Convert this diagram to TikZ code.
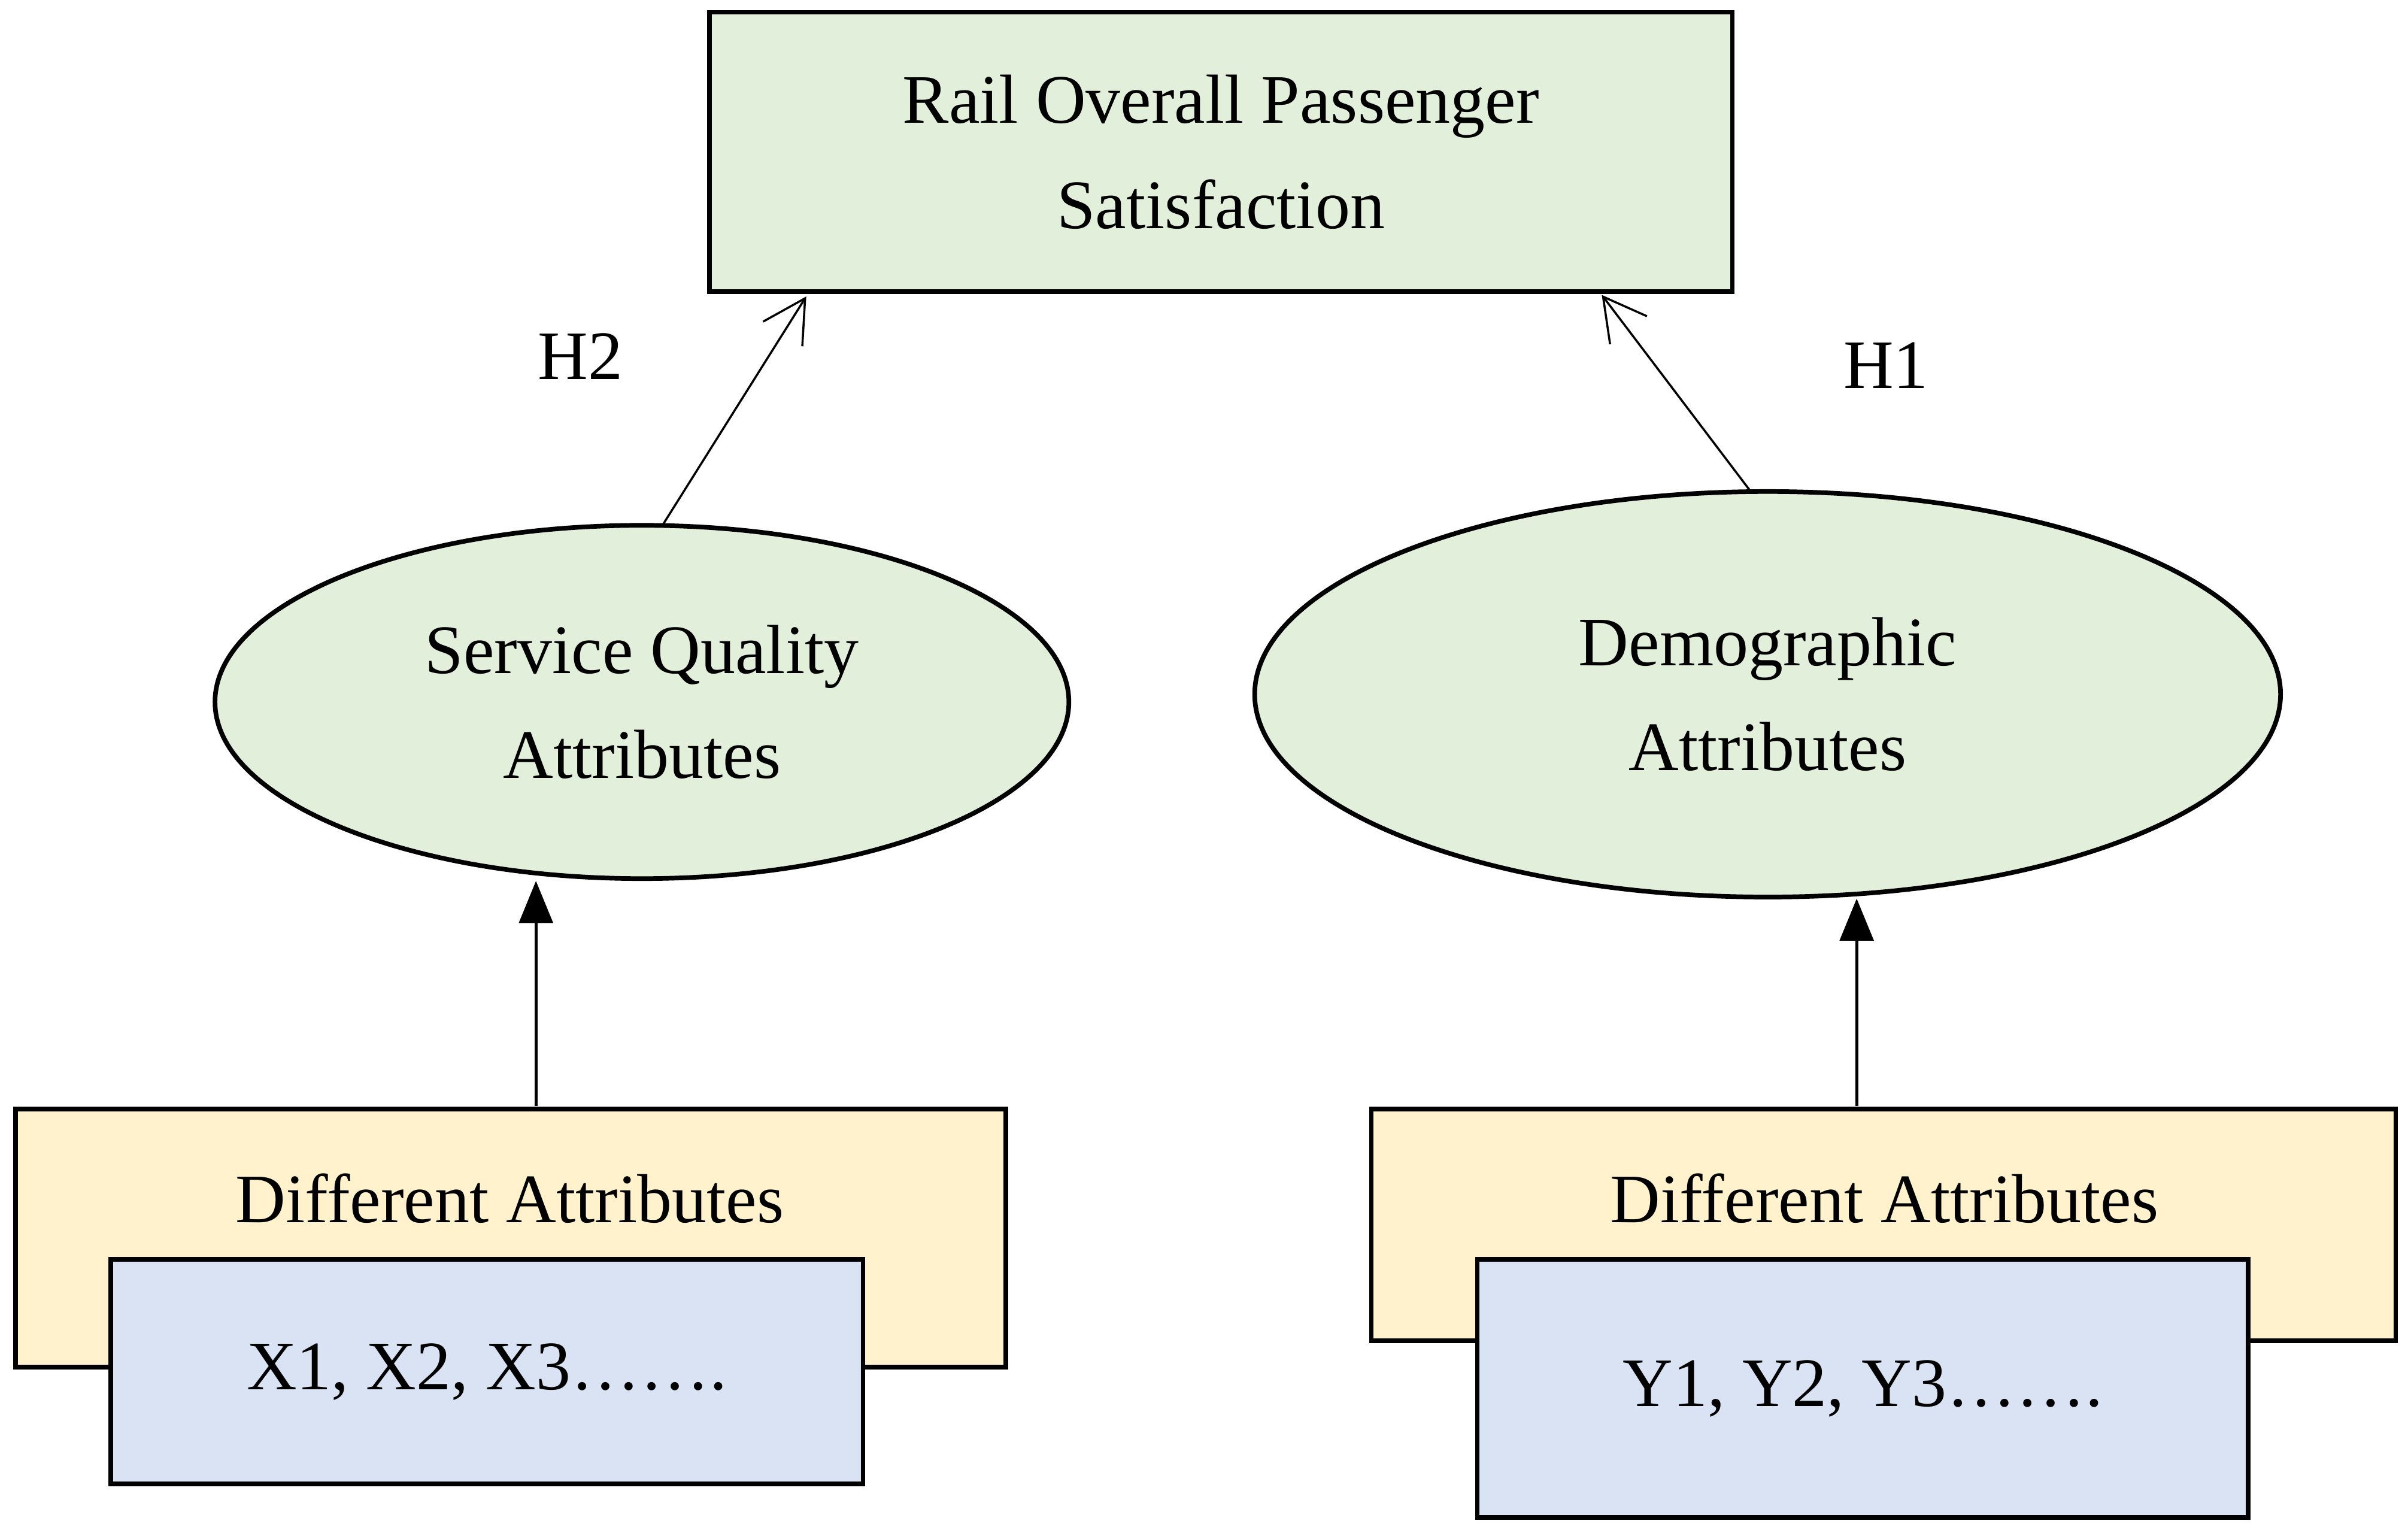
\documentclass[tikz,border=0pt]{standalone}
\usepackage{fontspec}
\setmainfont{Liberation Serif}
\usetikzlibrary{shapes.geometric,arrows.meta}
\definecolor{gfill}{HTML}{E2EFDA}
\definecolor{yfill}{HTML}{FFF2CC}
\definecolor{bfill}{HTML}{DAE3F3}
\begin{document}
\begin{tikzpicture}[x=0.02565cm,y=-0.02565cm,
  every node/.style={font=\fontsize{33}{50}\selectfont, align=center},
  box/.style={draw, line width=2.2pt, inner sep=0pt},
  ell/.style={draw, ellipse, line width=2.2pt, fill=gfill, inner sep=0pt},
  thin/.style={line width=1pt, -{Straight Barb[length=20pt,width=22pt,line width=1pt]}},
  solid/.style={line width=1.5pt, -{Triangle[length=20pt,width=16pt]}}]
\useasboundingbox (0,0) rectangle (1568,998);
\node[box, fill=gfill, minimum width=666*0.02565cm, minimum height=182*0.02565cm] (top) at (795,99) {Rail Overall Passenger\\Satisfaction};
\node[ell, minimum width=556*0.02565cm, minimum height=230*0.02565cm] (sq) at (418,457) {Service Quality\\Attributes};
\node[ell, minimum width=668*0.02565cm, minimum height=264*0.02565cm] (dem) at (1151,452) {Demographic\\Attributes};
\node[box, fill=yfill, minimum width=645*0.02565cm, minimum height=168*0.02565cm] (ly) at (332.5,806) {};
\node at (332,780) (lyt) {Different Attributes};
\node[box, fill=bfill, minimum width=490*0.02565cm, minimum height=146*0.02565cm] (lb) at (317,893) {X1, X2, X3…….};
\node[box, fill=yfill, minimum width=667*0.02565cm, minimum height=151*0.02565cm] (ry) at (1226.5,797.5) {};
\node at (1227,780) (ryt) {Different Attributes};
\node[box, fill=bfill, minimum width=502*0.02565cm, minimum height=168*0.02565cm] (rb) at (1213,904) {Y1, Y2, Y3…….};
\coordinate (a1) at (432,341); \coordinate (a2) at (525,193);
\coordinate (b1) at (1140,320); \coordinate (b2) at (1043,192);
\draw[thin] (a1) -- (a2);
\draw[thin] (b1) -- (b2);
\node (h2) at (378,232) {H2};
\node (h1) at (1228,238) {H1};
\draw[solid] (349,720) -- (sq.south -| 349,0);
\draw[solid] (1209,720) -- (1209,585);
\end{tikzpicture}
\end{document}
